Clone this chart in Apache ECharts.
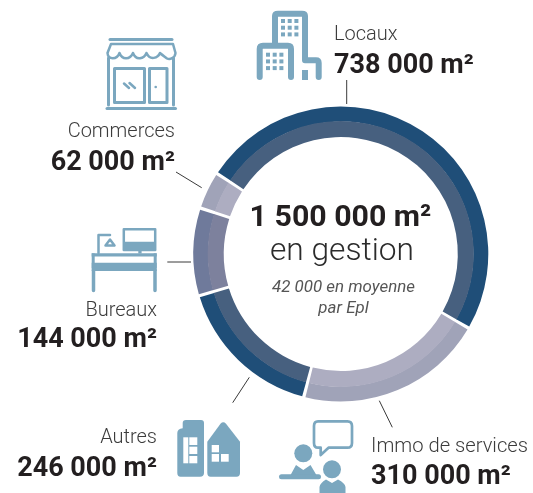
<!DOCTYPE html>
<html>
<head>
<meta charset="utf-8">
<style>html,body{margin:0;background:#fff}#main{width:533px;height:493px}</style>
<script src="https://cdn.jsdelivr.net/npm/echarts@6/dist/echarts.min.js"></script>
</head>
<body>
<div id="main"></div>
<script type="text/javascript">
// surfaces en milliers de m2, dans le sens horaire depuis Locaux
var categories = ['Locaux', 'Immo de services', 'Autres', 'Bureaux', 'Commerces'];
var surfaces = [738, 310, 246, 144, 62];
var outerColors = ['#1f4e78', '#a0a3b8', '#1f4e78', '#6f7a9b', '#a0a3b8'];
var innerColors = ['#47607f', '#adadc1', '#47607f', '#7d819d', '#adadc1'];
var totalLabel = '1 500 000 m²';
var centerLabels = ['en gestion', '42 000 en moyenne', 'par Epl'];

var FONT = 'Roboto';
var ICON = '#7ba7bf';
var graphics = [];
var shapeCount = 0;

function txt(str, x, baseline, size, weight, align, color, style) {
	graphics.push({type: 'text', silent: true, style: {
		text: str, x: x, y: baseline - size * 0.27, align: align, verticalAlign: 'middle',
		fill: color, font: (style || 'normal') + ' ' + weight + ' ' + size + 'px ' + FONT
	}});
}
function line(x1, y1, x2, y2) {
	graphics.push({type: 'line', silent: true, shape: {x1: x1, y1: y1, x2: x2, y2: y2},
		style: {stroke: '#3a3a3a', lineWidth: 1}});
}
// le composant graphic n'a pas de type path : on enregistre chaque trace comme une forme
function pathEl(d, style) {
	var name = 'icone' + (shapeCount++);
	echarts.graphic.registerShape(name, echarts.graphic.extendPath(d, {}));
	graphics.push({type: name, silent: true, style: style});
}
function strokePath(d, w) {
	pathEl(d, {fill: 'none', stroke: ICON, lineWidth: w, lineCap: 'round', lineJoin: 'round'});
}
function fillPath(d, color) {
	pathEl(d, {fill: color || ICON});
}
function box(x, y, w, h, color) {
	graphics.push({type: 'rect', silent: true, shape: {x: x, y: y, width: w, height: h},
		style: {fill: color || ICON}});
}
function dot(x, y, r) {
	graphics.push({type: 'circle', silent: true, shape: {cx: x, cy: y, r: r}, style: {fill: ICON}});
}
function m2(v) { return v + ' 000 m²'; }

// textes
var DARK = '#231f20', GREY = '#3c3c3c';
txt(categories[0], 334, 40, 20, 300, 'left', GREY);
txt(m2(surfaces[0]), 334, 74, 27, 700, 'left', DARK);
txt(categories[4], 175, 137, 20, 300, 'right', GREY);
txt(m2(surfaces[4]), 175, 171, 27, 700, 'right', DARK);
txt(categories[3], 157, 316, 20, 300, 'right', GREY);
txt(m2(surfaces[3]), 157, 348, 27, 700, 'right', DARK);
txt(categories[2], 157, 443, 20, 300, 'right', GREY);
txt(m2(surfaces[2]), 157, 477, 27, 700, 'right', DARK);
txt(categories[1], 371, 452, 20.2, 300, 'left', GREY);
txt(m2(surfaces[1]), 371, 485, 27, 700, 'left', DARK);
txt(totalLabel, 340.5, 226.5, 30.3, 700, 'center', DARK);
txt(centerLabels[0], 342, 261, 31.7, 300, 'center', '#2b2b2b');
txt(centerLabels[1], 343.5, 292, 16.9, 400, 'center', '#555', 'italic');
txt(centerLabels[2], 343.5, 313, 16.9, 400, 'center', '#555', 'italic');

// traits de rappel
line(346.7, 80, 346.7, 104);
line(176, 172, 201.7, 187.7);
line(167.3, 262, 191, 262);
line(249.3, 377.3, 232.7, 402.7);
line(379.3, 400.7, 392.3, 427.3);

// icone commerces
strokePath('M110 39.5H172', 3);
strokePath('M111 44H173L175.5 53C175 58 170 60 167 58.5C165 57 161 54 160 53C158 58 150 61 146.5 53C144 59 136 61 133 53C130 60 122 60 119.5 53C117 60 108 60 107.5 53Z', 2.5);
strokePath('M108.5 58V105M173.5 58V105', 3);
strokePath('M107 108.5H175.5', 3);
strokePath('M114.5 68.5H144.5V102.5H114.5Z', 3);
strokePath('M149.5 68.5H167V102.5H149.5Z', 3);
strokePath('M124 83.5L129 88M129.5 83L135 88', 2.5);
dot(155.7, 87, 1.3);

// icone locaux
strokePath('M275 43V16Q275 13.7 278 13.7H302Q305 13.7 305 16V60.3H316Q318.7 60.3 318.7 63V77', 6);
strokePath('M259.7 77V49Q259.7 45.7 263 45.7H288Q291 45.7 291 49V77', 6);
var tx, ty;
for (tx = 0; tx < 3; tx++) {
	for (ty = 0; ty < 3; ty++) {
		box(281 + tx * 6.7, 19 + ty * 6.7, 4, 4);
		box(266 + tx * 6.7, 52.7 + ty * 6.7, 4, 4);
	}
}
box(302, 70, 6, 10);

// icone bureaux
box(91.7, 253.3, 65, 3.3);
box(91.7, 262.7, 65, 8.3);
box(91.7, 253.3, 3, 15);
box(153.7, 253.3, 3, 15);
strokePath('M93.5 270V290.5M155 270V290.5', 3.5);
strokePath('M123.8 229.2H155.2V250H123.8Z', 2.5);
box(123, 241.7, 33, 9);
box(138.3, 250.5, 3.3, 3);
strokePath('M98.5 253V235H110', 2.5);
strokePath('M110 239.5L114.5 245.5H105.5Z', 2.5);

// icone autres
fillPath('M177.3 473V433Q177.3 429 182.7 428.3V423Q182.7 420 186 420H201Q204 420 204 423V473Q204 476.7 200 476.7H180.5Q177.3 476.7 177.3 473Z');
box(183.3, 437.3, 5, 26, '#fff');
box(189.3, 437.3, 8, 7.7, '#fff');
box(189.3, 446.7, 8, 7.3, '#fff');
box(189.3, 456, 8, 7.3, '#fff');
fillPath('M207.3 441.7L220.5 423.7Q223.3 421 226 423.7L240 441.7V473Q240 476.7 236.5 476.7H210.5Q207.3 476.7 207.3 473Z');
box(211.7, 445, 7.3, 7.3, '#fff');
box(211.7, 454, 7.3, 7.7, '#fff');
box(221, 454, 7.7, 7.7, '#fff');

// icone immo de services
strokePath('M318 421.3H347.5Q352 421.3 352 426V443Q352 447.7 347.5 447.7H328.5L320.7 455V447.7H318Q314 447.7 314 443V426Q314 421.3 318 421.3Z', 2.7);
dot(303.3, 453.3, 9);
dot(332, 469.3, 9);
fillPath('M290 476L296 465L303.3 470L310.5 465L317 476Z');
strokePath('M281.5 476.7H318.5', 5);
fillPath('M319.5 493V487Q320 483 326 479.5L332 483L338 479.5Q345 483 345.5 487V493Z');

var chart = echarts.init(document.getElementById('main'), null, {renderer: 'canvas'});

function ring(colors, radius) {
	return {
		type: 'pie', silent: true, animation: false, clockwise: true,
		center: [340.8, 254], radius: radius, startAngle: 147, padAngle: 1.3,
		label: {show: false}, labelLine: {show: false},
		data: categories.map(function (name, i) {
			return {name: name, value: surfaces[i], itemStyle: {color: colors[i]}};
		})
	};
}

chart.setOption({
	animation: false,
	backgroundColor: '#fff',
	series: [ring(outerColors, [132.5, 147.5]), ring(innerColors, [117, 133])],
	graphic: {elements: graphics}
});
</script>
</body>
</html>
